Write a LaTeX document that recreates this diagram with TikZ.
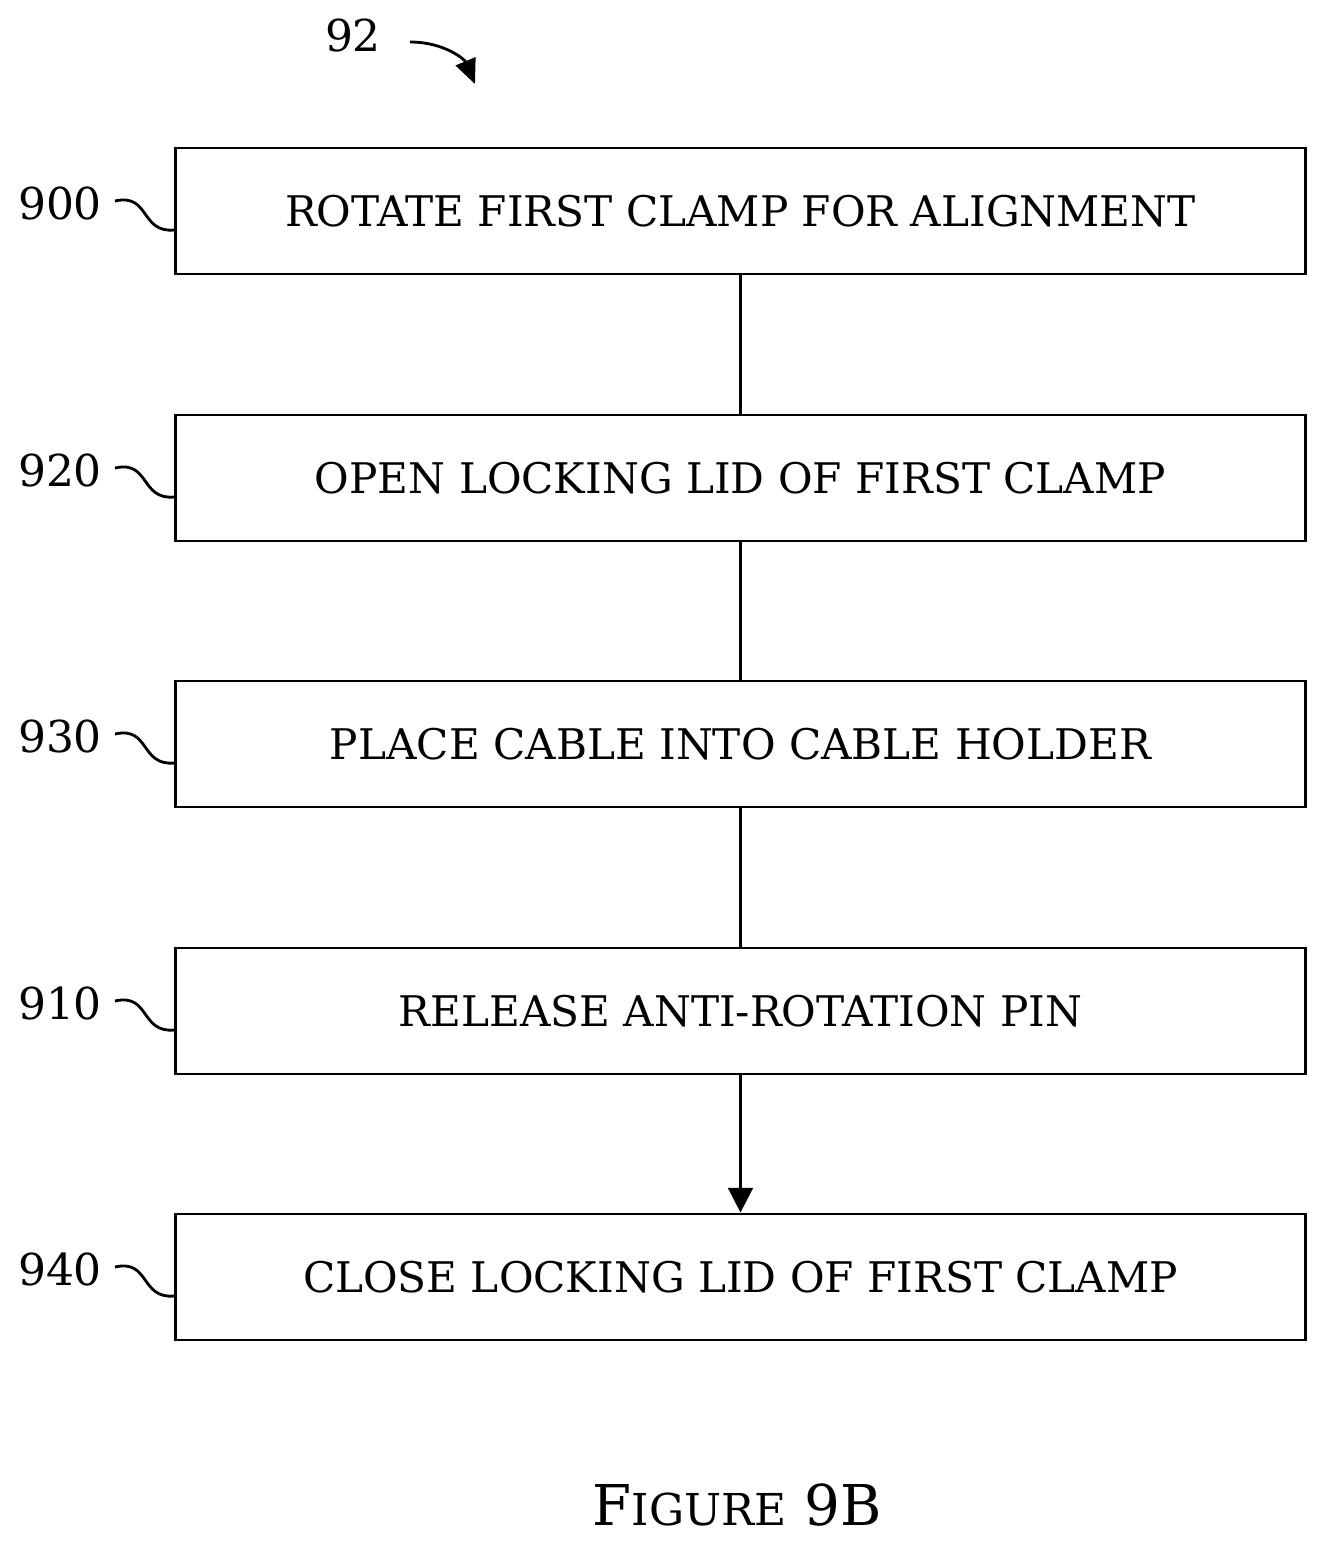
\documentclass[tikz,border=0pt]{standalone}
\usepackage{fontspec}
\setmainfont{DejaVu Serif}
\usetikzlibrary{positioning,arrows.meta}
\tikzset{
  stepbox/.style={draw,thick,minimum width=11.29cm,minimum height=1.26cm,font=\fontsize{12}{14}\selectfont},
  refnum/.style={font=\fontsize{12.5}{14}\selectfont},
  lead/.style={thick}
}
\begin{document}
\begin{tikzpicture}[x=0.01cm,y=-0.01cm]
  \useasboundingbox (0,0) rectangle (1327,1553);

  \node[stepbox] (s900) at (740.5,211) {ROTATE FIRST CLAMP FOR ALIGNMENT};
  \node[stepbox] (s920) at (740.5,478) {OPEN LOCKING LID OF FIRST CLAMP};
  \node[stepbox] (s930) at (740.5,744) {PLACE CABLE INTO CABLE HOLDER};
  \node[stepbox] (s910) at (740.5,1011) {RELEASE ANTI-ROTATION PIN};
  \node[stepbox] (s940) at (740.5,1277) {CLOSE LOCKING LID OF FIRST CLAMP};

  \draw[thick] (s900) -- (s920);
  \draw[thick] (s920) -- (s930);
  \draw[thick] (s930) -- (s910);
  \draw[thick,-{Triangle[width=7pt,length=7pt]}] (s910) -- (s940);

  % reference numerals
  \foreach \n/\y in {900/211,920/478,930/744,910/1011,940/1277}{
    \node[refnum] (l\n) at (60,\y-8) {\n};
    \draw[lead] (115,\y-10) .. controls (150,\y-18) and (140,\y+22) .. ([yshift=-0.19cm]s\n.west);
  }

  \node[refnum] (n92) at (353,35) {92};
  \coordinate (a92) at (475,84);
  \draw[thick,-{Triangle[width=6pt,length=7pt]}] (410,42) .. controls (445,42) and (465,60) .. (a92);

  \node[font=\fontsize{16}{20}\selectfont] (fig) at (737,1505) {F{\fontsize{12.5}{14}\selectfont IGURE} 9B};
\end{tikzpicture}
\end{document}
